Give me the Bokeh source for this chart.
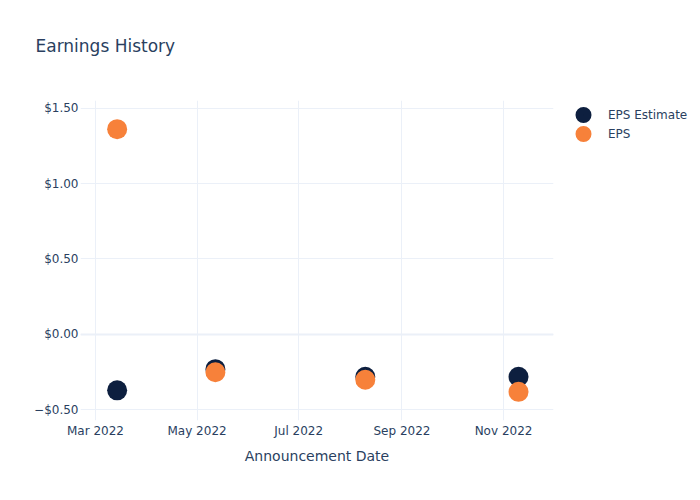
import pandas as pd
from bokeh.plotting import figure
from bokeh.models import (Range1d, DataRange1d, FixedTicker, CustomJSTickFormatter,
                          Legend, LegendItem, Span, ColumnDataSource)
from bokeh.embed import file_html
from bokeh.resources import INLINE

# ---- data ----
dates = ["2022-03-14", "2022-05-12", "2022-08-10", "2022-11-10"]
eps_estimate = [-0.37, -0.23, -0.28, -0.28]
eps_actual = [1.36, -0.25, -0.30, -0.38]
y_ticks = [-0.5, 0.0, 0.5, 1.0, 1.5]
title_text = "Earnings History"
x_label = "Announcement Date"
series_names = ["EPS Estimate", "EPS"]

TEXT = "#2a3f5f"
GRID = "#EBF0F8"
FONT = "DejaVu Sans"
NAVY = "#0d1f3f"
ORANGE = "#f7813a"

src = ColumnDataSource(dict(date=pd.to_datetime(dates), est=eps_estimate, eps=eps_actual))

p = figure(frame_width=473, frame_height=320, x_axis_type="datetime", output_backend="svg",
           toolbar_location=None,
           x_range=Range1d(pd.Timestamp("2022-02-20"), pd.Timestamp("2022-12-01")),
           y_range=DataRange1d(range_padding=0.19, range_padding_units="absolute"),
           min_border_left=80, min_border_right=147, min_border_top=100, min_border_bottom=80)
p.outline_line_color = None
p.background_fill_color = "white"

# title (second blank line only lifts the visible line higher in the top margin)
p.title.text = title_text + "\n\u00a0"
p.title.text_font = FONT
p.title.text_font_size = "17px"
p.title.text_font_style = "normal"
p.title.text_color = TEXT
p.title.align = "left"
p.title.offset = -45
p.title.standoff = 50

# grids
p.xgrid.grid_line_color = GRID
p.ygrid.grid_line_color = GRID
p.xgrid.grid_line_width = 1
p.ygrid.grid_line_width = 1
p.add_layout(Span(location=0, dimension="width", line_color=GRID, line_width=2, level="underlay"))

# axes
p.yaxis.ticker = FixedTicker(ticks=y_ticks)
p.yaxis.formatter = CustomJSTickFormatter(code="""
    return (tick < 0 ? "\u2212" : "") + "$" + Math.abs(tick).toFixed(2);
""")
for ax in (p.xaxis, p.yaxis):
    ax.axis_line_color = None
    ax.major_tick_line_color = None
    ax.minor_tick_line_color = None
    ax.major_tick_out = 0
    ax.major_tick_in = 0
    ax.major_label_text_font = FONT
    ax.major_label_text_font_size = "12px"
    ax.major_label_text_color = TEXT
p.xaxis.major_label_standoff = 3
p.yaxis.major_label_standoff = 2
p.xaxis.axis_label = x_label
p.xaxis.axis_label_text_font = FONT
p.xaxis.axis_label_text_font_size = "14px"
p.xaxis.axis_label_text_font_style = "normal"
p.xaxis.axis_label_text_color = TEXT
p.xaxis.axis_label_standoff = 7

# markers
r_est = p.scatter("date", "est", source=src, size=20, color=NAVY, line_color=None)
r_eps = p.scatter("date", "eps", source=src, size=20, color=ORANGE, line_color=None)

# hidden copies used only for the legend swatches (thick outline -> bigger dot)
l_est = p.scatter("date", "est", source=src, size=20, fill_color=NAVY, line_color=NAVY,
                  line_width=8.4, visible=False)
l_eps = p.scatter("date", "eps", source=src, size=20, fill_color=ORANGE, line_color=ORANGE,
                  line_width=8.4, visible=False)

legend = Legend(items=[LegendItem(label=series_names[0], renderers=[l_est]),
                       LegendItem(label=series_names[1], renderers=[l_eps])],
                location="top_left", margin=5, padding=0,
                glyph_width=50, glyph_height=19, label_height=19, spacing=0,
                label_standoff=-4, label_text_font=FONT, label_text_font_size="12px",
                label_text_color=TEXT, background_fill_alpha=0, border_line_alpha=0,
                inactive_fill_alpha=0)
p.add_layout(legend, "right")

open("out.html", "w").write(file_html(p, INLINE))
